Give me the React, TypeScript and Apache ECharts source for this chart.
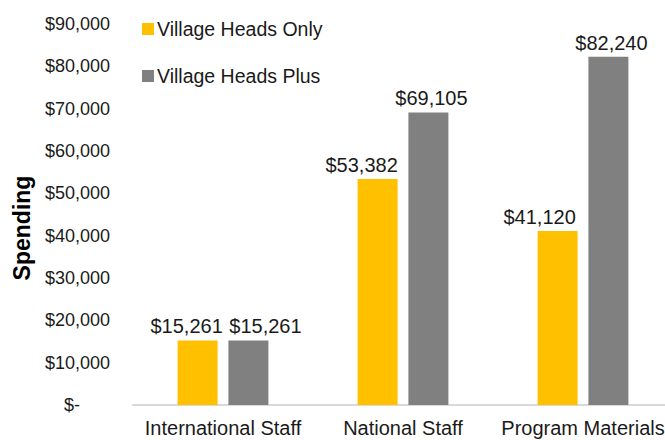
import React, { useEffect, useRef } from "react";
import * as echarts from "echarts";

const categories = ["International Staff", "National Staff", "Program Materials"];
const seriesNames = ["Village Heads Only", "Village Heads Plus"];
const headsOnly = [15261, 53382, 41120];
const headsPlus = [15261, 69105, 82240];
const yTicks = { min: 0, max: 90000, interval: 10000 };
const yTitle = "Spending";

// horizontal nudges of the data labels (as placed in the original)
const onlyLabelShift = [-11, -16, -18];
const plusLabelShift = [17, 3, 3];

const fmt = (v: number) => "$" + v.toLocaleString("en-US");

export default function App() {
  const ref = useRef<HTMLDivElement>(null);
  useEffect(() => {
    const chart = echarts.init(ref.current!, null, { renderer: "svg" });
    const font = "'Liberation Sans', Arial, sans-serif";
    const labelBase = {
      show: true,
      position: "top",
      distance: 4,
      fontSize: 20,
      color: "#1a1a1a",
      fontFamily: font,
      formatter: (p: any) => fmt(p.value),
    };
    chart.setOption({
      animation: false,
      textStyle: { fontFamily: font },
      grid: { left: 133, top: 24, width: 540, bottom: 35, outerBoundsMode: "none", containLabel: false },
      legend: {
        orient: "vertical",
        left: 137,
        top: 14,
        itemWidth: 12,
        itemHeight: 12,
        itemGap: 27,
        icon: "rect",
        textStyle: { fontSize: 19.5, color: "#1a1a1a", fontFamily: font, padding: [0, 0, 0, -2] },
        data: seriesNames,
      },
      graphic: [
        {
          type: "text",
          x: 22,
          y: 228,
          rotation: Math.PI / 2,
          style: {
            text: yTitle,
            fontSize: 23,
            fontWeight: "bold",
            fill: "#000",
            fontFamily: font,
            align: "center",
            verticalAlign: "middle",
          },
        },
      ],
      xAxis: {
        type: "category",
        data: categories,
        axisLine: { lineStyle: { color: "#d9d9d9", width: 2 } },
        axisTick: { show: false },
        axisLabel: { interval: 0, fontSize: 20, color: "#1a1a1a", margin: 13, fontFamily: font },
      },
      yAxis: {
        type: "value",
        min: yTicks.min,
        max: yTicks.max,
        interval: yTicks.interval,
        splitLine: { show: false },
        axisLine: { show: false },
        axisTick: { show: false },
        axisLabel: {
          fontSize: 18,
          color: "#1a1a1a",
          margin: 23,
          fontFamily: font,
          formatter: (v: number) => (v === 0 ? "{z|$-}" : fmt(v)),
          rich: { z: { fontSize: 18, color: "#1a1a1a", padding: [0, 30, 0, 0], fontFamily: font } },
        },
      },
      series: [
        {
          name: seriesNames[0],
          type: "bar",
          data: headsOnly.map((v, i) => ({ value: v, label: { offset: [onlyLabelShift[i], 0] } })),
          barWidth: 40,
          barGap: "27%",
          itemStyle: { color: "#FFC000" },
          label: labelBase,
        },
        {
          name: seriesNames[1],
          type: "bar",
          data: headsPlus.map((v, i) => ({ value: v, label: { offset: [plusLabelShift[i], 0] } })),
          barWidth: 40,
          itemStyle: { color: "#808080" },
          label: labelBase,
        },
      ],
    });
    return () => chart.dispose();
  }, []);
  return (
    <div
      ref={ref}
      style={{ position: "fixed", left: 0, top: 0, width: 665, height: 440, background: "#fff" }}
    />
  );
}
